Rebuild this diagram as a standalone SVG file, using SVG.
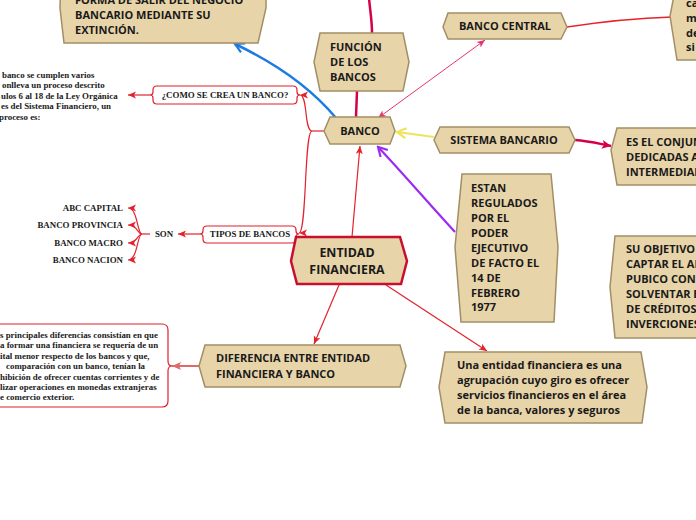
<svg xmlns="http://www.w3.org/2000/svg" width="696" height="520" viewBox="0 0 696 520">
<style>
.n{fill:#e8d4a9;stroke:#a28e66;stroke-width:1.5}
.t{font-family:"Open Sans","Noto Sans",sans-serif;font-weight:700;font-size:11px;fill:#1a1a1a}
.s{font-family:"Liberation Serif","Times New Roman",serif;font-weight:700;font-size:8.9px;fill:#1a1a1a}
.lb{fill:#fff;stroke:#e0202a;stroke-width:1.2}
.r{fill:none;stroke:#e3222c;stroke-width:1.2}
</style>
<defs>
<marker id="ar" markerUnits="userSpaceOnUse" markerWidth="9" markerHeight="8" refX="8" refY="4" orient="auto"><path d="M0,0.5 L8,4 L0,7.5 L2,4 Z" fill="#e3222c"/></marker>
<marker id="ap" markerUnits="userSpaceOnUse" markerWidth="9" markerHeight="8" refX="8" refY="4" orient="auto-start-reverse"><path d="M0,0.5 L8,4 L0,7.5 L2,4 Z" fill="#e8346a"/></marker>
<marker id="ab" markerUnits="userSpaceOnUse" markerWidth="12" markerHeight="12" refX="10" refY="6" orient="auto"><path d="M1,1 L10,6 L1,11" fill="none" stroke="#1e7be0" stroke-width="2.2"/></marker>
<marker id="ay" markerUnits="userSpaceOnUse" markerWidth="12" markerHeight="12" refX="10" refY="6" orient="auto"><path d="M1,1 L10,6 L1,11" fill="none" stroke="#eee35a" stroke-width="2.2"/></marker>
<marker id="au" markerUnits="userSpaceOnUse" markerWidth="12" markerHeight="12" refX="10" refY="6" orient="auto"><path d="M1,1 L10,6 L1,11" fill="none" stroke="#9b2bf2" stroke-width="2.2"/></marker>
<marker id="ac" markerUnits="userSpaceOnUse" markerWidth="12" markerHeight="12" refX="10" refY="6" orient="auto"><path d="M1,1.5 L10,6 L1,10.5 L3,6 Z" fill="#d6004a"/></marker>
<marker id="as" markerUnits="userSpaceOnUse" markerWidth="10" markerHeight="10" refX="9" refY="5" orient="auto"><path d="M0,1 L9,5 L0,9 L2,5 Z" fill="#e06a6a"/></marker>
</defs>

<g id="connectors">
<path d="M372,33 C372,20 370,10 369,-2" fill="none" stroke="#d6004a" stroke-width="2.5"/>
<path d="M357,91 L356,117" fill="none" stroke="#d6004a" stroke-width="2.5"/>
<path d="M336,118 Q300,75 235,44" fill="none" stroke="#1e7be0" stroke-width="2.5" marker-end="url(#ab)"/>
<path d="M378,118 L485,40" fill="none" stroke="#e8346a" stroke-width="1" marker-start="url(#ap)" marker-end="url(#ap)"/>
<path d="M567,27 C600,22 640,18 672,17" fill="none" stroke="#e8222c" stroke-width="1.5"/>
<path d="M434,137 L397,132" fill="none" stroke="#eee35a" stroke-width="2.2" marker-end="url(#ay)"/>
<path d="M575,140 C590,141 600,144 611,146" fill="none" stroke="#d6004a" stroke-width="2.5" marker-end="url(#ac)"/>
<path d="M455,232 C430,205 400,170 378,147" fill="none" stroke="#9b2bf2" stroke-width="2.2" marker-end="url(#au)"/>
<path d="M352,237 L360,146" class="r" marker-end="url(#ar)"/>
<path d="M324,131 H312" class="r"/>
<path d="M312,131 C304,131 308,95 300,95" class="r" marker-end="url(#ar)"/>
<path d="M312,131 C304,131 307,233 299,233" class="r" marker-end="url(#ar)"/>
<path d="M150,95 L128,95" class="r" marker-end="url(#ar)"/>
<path d="M200,234 L178,234" class="r" marker-end="url(#ar)"/>
<path d="M150,234 H142" class="r"/>
<path d="M142,234 C137,234 138,208 128,208" class="r" marker-end="url(#ar)"/>
<path d="M142,234 C137,234 138,225 128,225" class="r" marker-end="url(#ar)"/>
<path d="M142,234 C137,234 138,243 128,243" class="r" marker-end="url(#ar)"/>
<path d="M142,234 C137,234 138,260 128,260" class="r" marker-end="url(#ar)"/>
<path d="M339,285 L314,344" class="r" marker-end="url(#ar)"/>
<path d="M386,285 L487,351" class="r" marker-end="url(#ar)"/>
<path d="M199,366 L172,366" fill="none" stroke="#e06a6a" stroke-width="2" marker-end="url(#as)"/>
</g>

<g id="salida">
<path class="n" d="M61,-27 H266 L266,8 L258,43 H64 L60,8 Z"/>
<text class="t" x="75" y="4">FORMA DE SALIR DEL NEGOCIO</text>
<text class="t" x="75" y="19">BANCARIO MEDIANTE SU</text>
<text class="t" x="75" y="34">EXTINCIÓN.</text>
</g>

<g id="funcion">
<path class="n" d="M320,33 H403 L409,62 L403,91 H320 L314,62 Z"/>
<text class="t" x="330" y="51">FUNCIÓN</text>
<text class="t" x="330" y="66">DE LOS</text>
<text class="t" x="330" y="81">BANCOS</text>
</g>

<g id="banco">
<path class="n" d="M330,117 H390 L395,131 L390,144 H330 L324,131 Z"/>
<text class="t" x="360" y="135" text-anchor="middle">BANCO</text>
</g>

<g id="banco-central">
<path class="n" d="M448,13 H561 L567,27 L561,39 H448 L443,27 Z"/>
<text class="t" x="505" y="30" text-anchor="middle">BANCO CENTRAL</text>
</g>

<g id="bc-desc">
<path class="n" d="M677,-20 H710 V60 H677 L670,16 Z"/>
<text class="t" x="686" y="7">ca</text>
<text class="t" x="686" y="22">m</text>
<text class="t" x="686" y="37">de</text>
<text class="t" x="686" y="51">si</text>
</g>

<g id="sistema">
<path class="n" d="M440,127 H569 L575,140 L569,153 H440 L434,140 Z"/>
<text class="t" x="504" y="144" text-anchor="middle">SISTEMA BANCARIO</text>
</g>

<g id="conjunto">
<path class="n" d="M617,128 H710 V185 H617 L611,150 Z"/>
<text class="t" x="626" y="146">ES EL CONJUNTO</text>
<text class="t" x="626" y="161">DEDICADAS A</text>
<text class="t" x="626" y="176">INTERMEDIAR</text>
</g>

<g id="objetivo">
<path class="n" d="M615,236 H710 V338 H615 L610,287 Z"/>
<text class="t" x="626" y="253">SU OBJETIVO</text>
<text class="t" x="626" y="268">CAPTAR EL AHORRO</text>
<text class="t" x="626" y="283">PUBICO CON</text>
<text class="t" x="626" y="298">SOLVENTAR EL</text>
<text class="t" x="626" y="313">DE CRÉDITOS</text>
<text class="t" x="626" y="328">INVERCIONES</text>
</g>

<g id="regulados">
<path class="n" d="M462,174 H551 L558,247 L554,322 H461 L455,247 Z"/>
<text class="t" x="471" y="192">ESTAN</text>
<text class="t" x="471" y="207">REGULADOS</text>
<text class="t" x="471" y="222">POR EL</text>
<text class="t" x="471" y="237">PODER</text>
<text class="t" x="471" y="252">EJECUTIVO</text>
<text class="t" x="471" y="267">DE FACTO EL</text>
<text class="t" x="471" y="282">14 DE</text>
<text class="t" x="471" y="297">FEBRERO</text>
<text class="t" x="471" y="311">1977</text>
</g>

<g id="como">
<path class="lb" d="M157,86 H293 Q297,86 297,90 V92 Q297,95 300,95 Q297,95 297,98 V100 Q297,104 293,104 H157 Q153,104 153,100 V98 Q153,95 150,95 Q153,95 153,92 V90 Q153,86 157,86 Z"/>
<text class="s" x="225" y="98" text-anchor="middle">¿COMO SE CREA UN BANCO?</text>
</g>

<g id="como-desc">
<text class="s" x="2" y="78">banco se cumplen varios</text>
<text class="s" x="2" y="88">onlleva un proceso descrito</text>
<text class="s" x="1" y="99">ulos 6 al 18 de la Ley Orgánica</text>
<text class="s" x="1" y="109">es del Sistema Financiero, un</text>
<text class="s" x="-1" y="120">proceso es:</text>
</g>

<g id="tipos">
<path class="lb" d="M207,226 H292 Q296,226 296,230 V231 Q296,234 299,234 Q296,234 296,237 V239 Q296,243 292,243 H207 Q203,243 203,239 V237 Q203,234 200,234 Q203,234 203,231 V230 Q203,226 207,226 Z"/>
<text class="s" x="250" y="237" text-anchor="middle">TIPOS DE BANCOS</text>
</g>

<g id="son">
<text class="s" x="164" y="237" text-anchor="middle">SON</text>
</g>

<g id="bancos-lista">
<text class="s" x="123" y="211" text-anchor="end">ABC CAPITAL</text>
<text class="s" x="123" y="228" text-anchor="end">BANCO PROVINCIA</text>
<text class="s" x="123" y="246" text-anchor="end">BANCO MACRO</text>
<text class="s" x="123" y="263" text-anchor="end">BANCO NACION</text>
</g>

<g id="entidad">
<path d="M296,237 H400 L407,261 L401,284 H297 L291,261 Z" fill="#e8d4a9" stroke="#c8102e" stroke-width="2.5"/>
<text class="t" x="347" y="257" text-anchor="middle" style="font-size:12.4px">ENTIDAD</text>
<text class="t" x="347" y="274" text-anchor="middle" style="font-size:12.4px">FINANCIERA</text>
</g>

<g id="diferencia">
<path class="n" d="M205,345 H400 L406,366 L400,387 H205 L199,366 Z"/>
<text class="t" x="216" y="362">DIFERENCIA ENTRE ENTIDAD</text>
<text class="t" x="216" y="378">FINANCIERA Y BANCO</text>
</g>

<g id="diferencia-desc">
<path class="lb" d="M-10,324 H162 Q168,324 168,330 V361 Q168,366 172,366 Q168,366 168,371 V401 Q168,407 162,407 H-10 Z"/>
<text class="s" x="0" y="338">s principales diferencias consistían en que</text>
<text class="s" x="0" y="348">a formar una financiera se requería de un</text>
<text class="s" x="0" y="359">ital menor respecto de los bancos y que,</text>
<text class="s" x="6" y="369">comparación con un banco, tenían la</text>
<text class="s" x="0" y="380">hibición de ofrecer cuentas corrientes y de</text>
<text class="s" x="0" y="390">lizar operaciones en monedas extranjeras</text>
<text class="s" x="0" y="400">e comercio exterior.</text>
</g>

<g id="definicion">
<path class="n" d="M445,352 H641 L647,387 L642,423 H445 L439,387 Z"/>
<text class="t" x="457" y="369">Una entidad financiera es una</text>
<text class="t" x="457" y="384">agrupación cuyo giro es ofrecer</text>
<text class="t" x="457" y="399">servicios financieros en el área</text>
<text class="t" x="457" y="414">de la banca, valores y seguros</text>
</g>
</svg>
